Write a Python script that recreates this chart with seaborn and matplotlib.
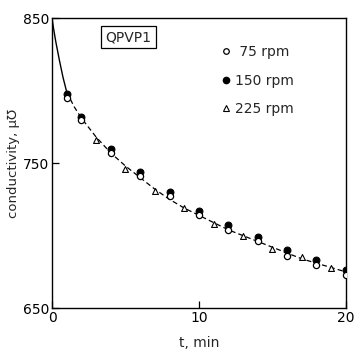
import numpy as np
import pandas as pd
import matplotlib
matplotlib.use("Agg")
import matplotlib.pyplot as plt
from matplotlib.lines import Line2D
import seaborn as sns

sns.set_theme(style="ticks")
plt.rcParams['font.family'] = ['DejaVu Sans']

# data
t_even = [1, 2, 4, 6, 8, 10, 12, 14, 16, 18, 20]
rpm75 = [795, 780, 757, 741, 727, 714, 704, 696, 686, 680, 673]
rpm150 = [798, 782, 760, 744, 730, 717, 707, 699, 690, 683, 676]
t_odd = [3, 5, 7, 9, 11, 13, 15, 17, 19]
rpm225 = [766, 746, 731, 719, 708, 700, 691, 685, 678]

# fitted curve
curve_t = [0, 0.1, 0.25, 0.5, 0.75, 1, 1.5, 2, 3, 4, 5, 6, 7, 8, 9, 10,
           11, 12, 13, 14, 15, 16, 17, 18, 19, 20]
curve_v = [850, 843, 834, 821, 809, 799, 789, 781, 768, 757, 748, 740, 732, 725, 719, 714,
           709, 704, 700, 696, 692, 688, 684, 681, 678, 675]

curve = pd.DataFrame({'t': curve_t, 'v': curve_v})
solid = curve[curve['t'] <= 1]
dashed = curve[curve['t'] >= 1]

fig = plt.figure(figsize=(3.54, 3.55), dpi=100)
ax = fig.add_axes([0.147, 0.132, 0.830, 0.817])

sns.lineplot(data=solid, x='t', y='v', color='black', linewidth=1.0, ax=ax)
sns.lineplot(data=dashed, x='t', y='v', color='black', linewidth=0.9,
             linestyle=(0, (4, 2.5)), ax=ax)

sns.scatterplot(x=t_even, y=rpm150, marker='o', s=24, color='black',
                edgecolor='black', linewidth=0.8, ax=ax, zorder=3)
sns.scatterplot(x=t_even, y=rpm75, marker='o', s=20, color='white',
                edgecolor='black', linewidth=0.9, ax=ax, zorder=4)
sns.scatterplot(x=t_odd, y=rpm225, marker='^', s=18, color='white',
                edgecolor='black', linewidth=0.8, ax=ax, zorder=4)

ax.set_xlim(0, 20)
ax.set_ylim(650, 850)
ax.set_xticks([0, 10, 20])
ax.set_yticks([650, 750, 850])
ax.tick_params(direction='in', length=5, width=0.9, labelsize=10, pad=2, colors='black')
for s in ax.spines.values():
    s.set_linewidth(1.0)
    s.set_color('black')
ax.set_xlabel('t, min', fontsize=10, labelpad=8)
ax.set_ylabel('conductivity, μ℧', fontsize=9.5, labelpad=2)

ax.text(0.26, 0.934, 'QPVP1', transform=ax.transAxes, ha='center', va='center',
        fontsize=10, bbox=dict(boxstyle='square,pad=0.3', facecolor='white',
                               edgecolor='black', linewidth=0.9))

handles = [
    Line2D([], [], linestyle='none', marker='o', markersize=4, markerfacecolor='white',
           markeredgecolor='black', markeredgewidth=0.9),
    Line2D([], [], linestyle='none', marker='o', markersize=4.5, markerfacecolor='black',
           markeredgecolor='black'),
    Line2D([], [], linestyle='none', marker='^', markersize=4, markerfacecolor='white',
           markeredgecolor='black', markeredgewidth=0.8),
]
ax.legend(handles, [' 75 rpm', '150 rpm', '225 rpm'], loc='upper left',
          bbox_to_anchor=(0.52, 0.95), frameon=False, fontsize=10,
          handletextpad=0.1, labelspacing=1.05, handlelength=1.2)

fig.savefig('out.png', dpi=100)
